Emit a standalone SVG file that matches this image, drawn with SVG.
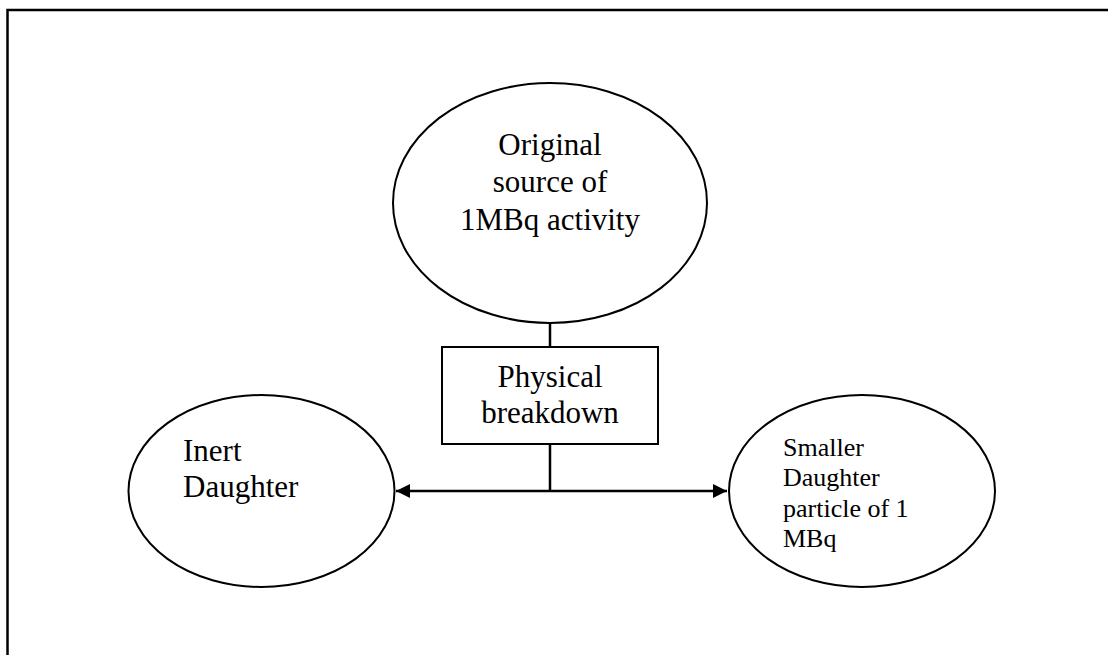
<svg xmlns="http://www.w3.org/2000/svg" width="1108" height="655" viewBox="0 0 1108 655">
<style>
.shape{fill:#fff;stroke:#000;stroke-width:2}
.t{font-family:"Liberation Serif","Times New Roman",serif;font-size:31px;fill:#000}
.s{font-family:"Liberation Serif","Times New Roman",serif;font-size:26px;fill:#000}
.ln{stroke:#000;stroke-width:2.5;fill:none}
</style>
<defs>
<marker id="ah" viewBox="0 0 10 10" refX="10" refY="5" markerWidth="15" markerHeight="14" markerUnits="userSpaceOnUse" orient="auto-start-reverse">
<path d="M0,0 L10,5 L0,10 z" fill="#000"/>
</marker>
</defs>
<rect width="1108" height="655" fill="#fff"/>
<g id="frame">
<path d="M7.5,655 V10 H1108" fill="none" stroke="#000" stroke-width="2.5"/>
</g>
<g id="connectors">
<line class="ln" x1="550" y1="323" x2="550" y2="347"/>
<line class="ln" x1="550" y1="444" x2="550" y2="491"/>
<line class="ln" x1="396" y1="491" x2="727" y2="491" marker-start="url(#ah)" marker-end="url(#ah)"/>
</g>
<g id="original">
<ellipse class="shape" cx="550" cy="203" rx="157" ry="120"/>
<text class="t" text-anchor="middle"><tspan x="550" y="155">Original</tspan><tspan x="550" y="192">source of</tspan><tspan x="550" y="230">1MBq activity</tspan></text>
</g>
<g id="breakdown">
<rect class="shape" x="442" y="347" width="216" height="97"/>
<text class="t" text-anchor="middle"><tspan x="550" y="387">Physical</tspan><tspan x="550" y="423">breakdown</tspan></text>
</g>
<g id="inert">
<ellipse class="shape" cx="261.5" cy="491" rx="133" ry="96"/>
<text class="t"><tspan x="183" y="461">Inert</tspan><tspan x="183" y="497">Daughter</tspan></text>
</g>
<g id="smaller">
<ellipse class="shape" cx="862" cy="491" rx="133" ry="96"/>
<text class="s"><tspan x="783" y="456">Smaller</tspan><tspan x="783" y="486">Daughter</tspan><tspan x="783" y="517">particle of 1</tspan><tspan x="783" y="547">MBq</tspan></text>
</g>
</svg>
